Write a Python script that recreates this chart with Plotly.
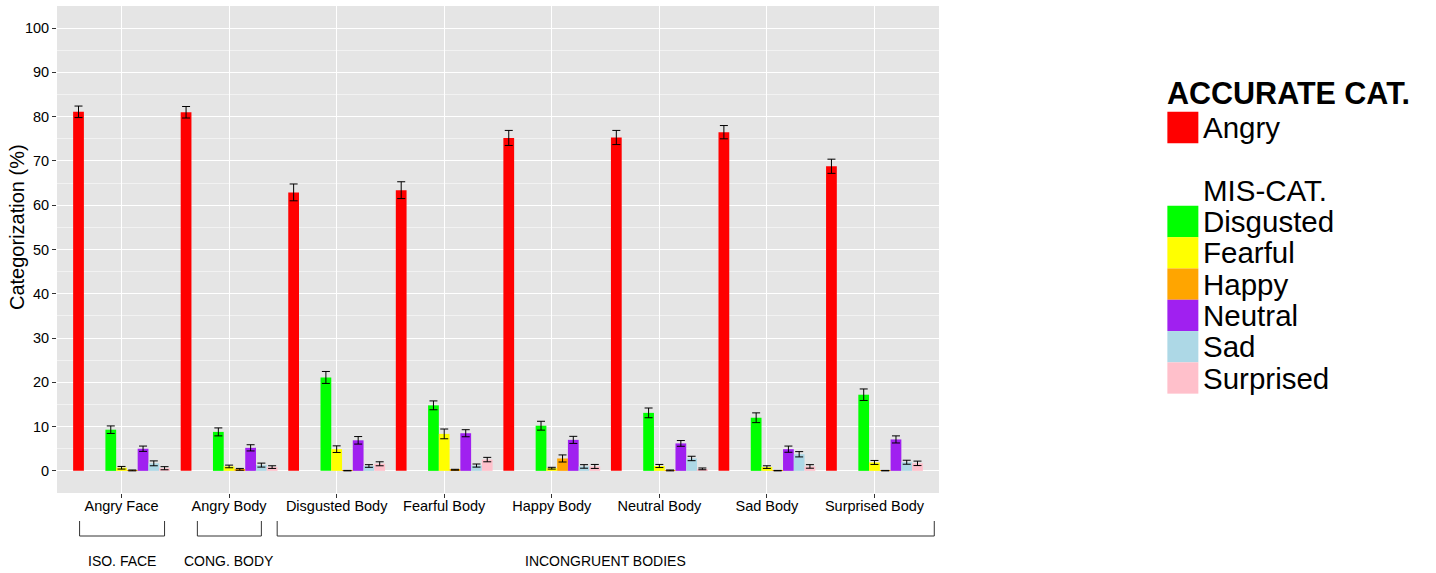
import plotly.graph_objects as go

# ---------------- data ----------------
categories = ["Angry Face", "Angry Body", "Disgusted Body", "Fearful Body",
              "Happy Body", "Neutral Body", "Sad Body", "Surprised Body"]

angry = [81.1, 81.0, 62.9, 63.4, 75.2, 75.3, 76.5, 68.8]
angry_err = [1.3, 1.3, 1.9, 1.9, 1.7, 1.6, 1.5, 1.6]

disgusted = [9.3, 8.8, 21.1, 14.8, 10.2, 13.1, 12.0, 17.2]
disgusted_err = [0.85, 0.9, 1.35, 1.0, 1.0, 1.1, 1.1, 1.3]

fearful = [0.7, 1.0, 4.9, 8.35, 0.6, 1.1, 0.85, 1.9]
fearful_err = [0.3, 0.3, 0.75, 1.1, 0.2, 0.35, 0.3, 0.45]

happy = [0.1, 0.35, 0.05, 0.25, 2.8, 0.1, 0.05, 0.05]
happy_err = [0.1, 0.2, 0.05, 0.1, 0.8, 0.1, 0.05, 0.05]

neutral = [5.0, 5.2, 6.9, 8.5, 7.0, 6.2, 4.9, 7.1]
neutral_err = [0.6, 0.7, 0.85, 0.8, 0.8, 0.65, 0.7, 0.8]

sad = [1.7, 1.3, 1.1, 1.2, 1.0, 2.8, 3.75, 1.95]
sad_err = [0.55, 0.45, 0.3, 0.35, 0.4, 0.5, 0.6, 0.45]

surprised = [0.6, 0.85, 1.6, 2.55, 1.0, 0.45, 1.0, 1.7]
surprised_err = [0.35, 0.3, 0.45, 0.5, 0.45, 0.2, 0.4, 0.5]

y_ticks = [0, 10, 20, 30, 40, 50, 60, 70, 80, 90, 100]
y_title = "Categorization (%)"

legend_title = "ACCURATE CAT."
mis_title = "MIS-CAT."

# group brackets: (label, start index, end index)
group_labels = ["ISO. FACE", "CONG. BODY", "INCONGRUENT BODIES"]
group_start = [-0.39, 0.705, 1.447]
group_end = [0.40, 1.30, 7.556]

# series in dodge order (two empty legend slots between Angry and the mis-categorizations)
series = [
    ("Angry", angry, angry_err, "#FF0000"),
    ("", None, None, None),
    (mis_title, None, None, None),
    ("Disgusted", disgusted, disgusted_err, "#00FF00"),
    ("Fearful", fearful, fearful_err, "#FFFF00"),
    ("Happy", happy, happy_err, "#FFA500"),
    ("Neutral", neutral, neutral_err, "#A020F0"),
    ("Sad", sad, sad_err, "#ADD8E6"),
    ("Surprised", surprised, surprised_err, "#FFC0CB"),
]

FONT = "Liberation Sans, Arial, sans-serif"

fig = go.Figure()
for name, vals, errs, col in series:
    if vals is None:
        fig.add_trace(go.Bar(x=categories, y=[0] * len(categories), name=name or "blank",
                             marker=dict(color="rgba(0,0,0,0)", line=dict(width=0)),
                             showlegend=False, hoverinfo="skip"))
    else:
        fig.add_trace(go.Bar(x=categories, y=vals, name=name,
                             marker=dict(color=col, line=dict(width=0)),
                             error_y=dict(type="data", array=errs, color="black",
                                          thickness=1, width=4),
                             showlegend=False))

# ---------------- layout geometry ----------------
W_FIG, H_FIG = 1436, 573
L, R_EDGE, T, B = 57, 939.5, 6, 493
PW, PH = R_EDGE - L, B - T


def px_x(px):
    return (px - L) / PW


def px_y(py):
    return (B - py) / PH


shapes = []
annotations = []

# y-axis title
annotations.append(dict(xref="paper", yref="paper", x=px_x(17), y=px_y(227),
                        text=y_title, textangle=-90, showarrow=False,
                        xanchor="center", yanchor="middle",
                        font=dict(size=20, color="black", family=FONT)))

# brackets under the axis
yt, yb = px_y(521), px_y(536)
for lab, s, e in zip(group_labels, group_start, group_end):
    for (x0, y0, x1, y1) in [(s, yt, s, yb), (s, yb, e, yb), (e, yb, e, yt)]:
        shapes.append(dict(type="line", xref="x", yref="paper", x0=x0, x1=x1, y0=y0, y1=y1,
                           line=dict(color="#333333", width=1)))
    annotations.append(dict(xref="x", yref="paper", x=(s + e) / 2, y=px_y(561),
                            text=lab, showarrow=False, xanchor="center", yanchor="middle",
                            font=dict(size=14, color="black", family=FONT)))

# manual legend (large ggplot-style keys)
key_x0, key_x1, text_x = 1168, 1199, 1202
key_h = 31.3
annotations.append(dict(xref="paper", yref="paper", x=px_x(key_x0 - 2), y=px_y(93),
                        text="<b>" + legend_title + "</b>", showarrow=False,
                        xanchor="left", yanchor="middle",
                        font=dict(size=30.5, color="black", family=FONT)))
row_centers = [127.5, 159.0, 190.5] + [221.5 + key_h * k for k in range(6)]
for (name, vals, errs, col), cy in zip(series, row_centers):
    if col is not None:
        shapes.append(dict(type="rect", xref="paper", yref="paper",
                           x0=px_x(key_x0), x1=px_x(key_x1),
                           y0=px_y(cy - key_h / 2), y1=px_y(cy + key_h / 2),
                           fillcolor=col, line=dict(width=0)))
    if name:
        annotations.append(dict(xref="paper", yref="paper", x=px_x(text_x), y=px_y(cy),
                                text=name, showarrow=False, xanchor="left", yanchor="middle",
                                font=dict(size=29.5, color="black", family=FONT)))

fig.update_layout(
    width=W_FIG, height=H_FIG,
    margin=dict(l=L, r=W_FIG - R_EDGE, t=T, b=H_FIG - B, autoexpand=False),
    barmode="group", bargap=0.1, bargroupgap=0,
    plot_bgcolor="#E5E5E5", paper_bgcolor="white",
    showlegend=False,
    font=dict(family=FONT, color="black"),
    shapes=shapes, annotations=annotations,
)

fig.update_xaxes(type="category", range=[-0.6, len(categories) - 0.4],
                 showgrid=True, gridcolor="white", gridwidth=1.2,
                 ticks="outside", ticklen=4, tickcolor="#333333", tickwidth=1,
                 ticklabelstandoff=-4,
                 tickfont=dict(size=14.5, color="black", family=FONT),
                 zeroline=False, showline=False, automargin=False)

fig.update_yaxes(range=[-5, 105], tickmode="array", tickvals=y_ticks,
                 ticktext=[str(v) for v in y_ticks],
                 showgrid=True, gridcolor="white", gridwidth=1.2,
                 minor=dict(tickmode="array", tickvals=[v + 5 for v in y_ticks[:-1]],
                            showgrid=True, gridcolor="#F2F2F2", gridwidth=0.6, ticks=""),
                 ticks="outside", ticklen=4, tickcolor="#333333", tickwidth=1,
                 tickfont=dict(size=14.5, color="black", family=FONT),
                 zeroline=False, showline=False, automargin=False)

fig.write_html("out.html", config={"displayModeBar": False},
               post_script="document.body.style.margin='0';document.body.style.overflow='hidden';")
